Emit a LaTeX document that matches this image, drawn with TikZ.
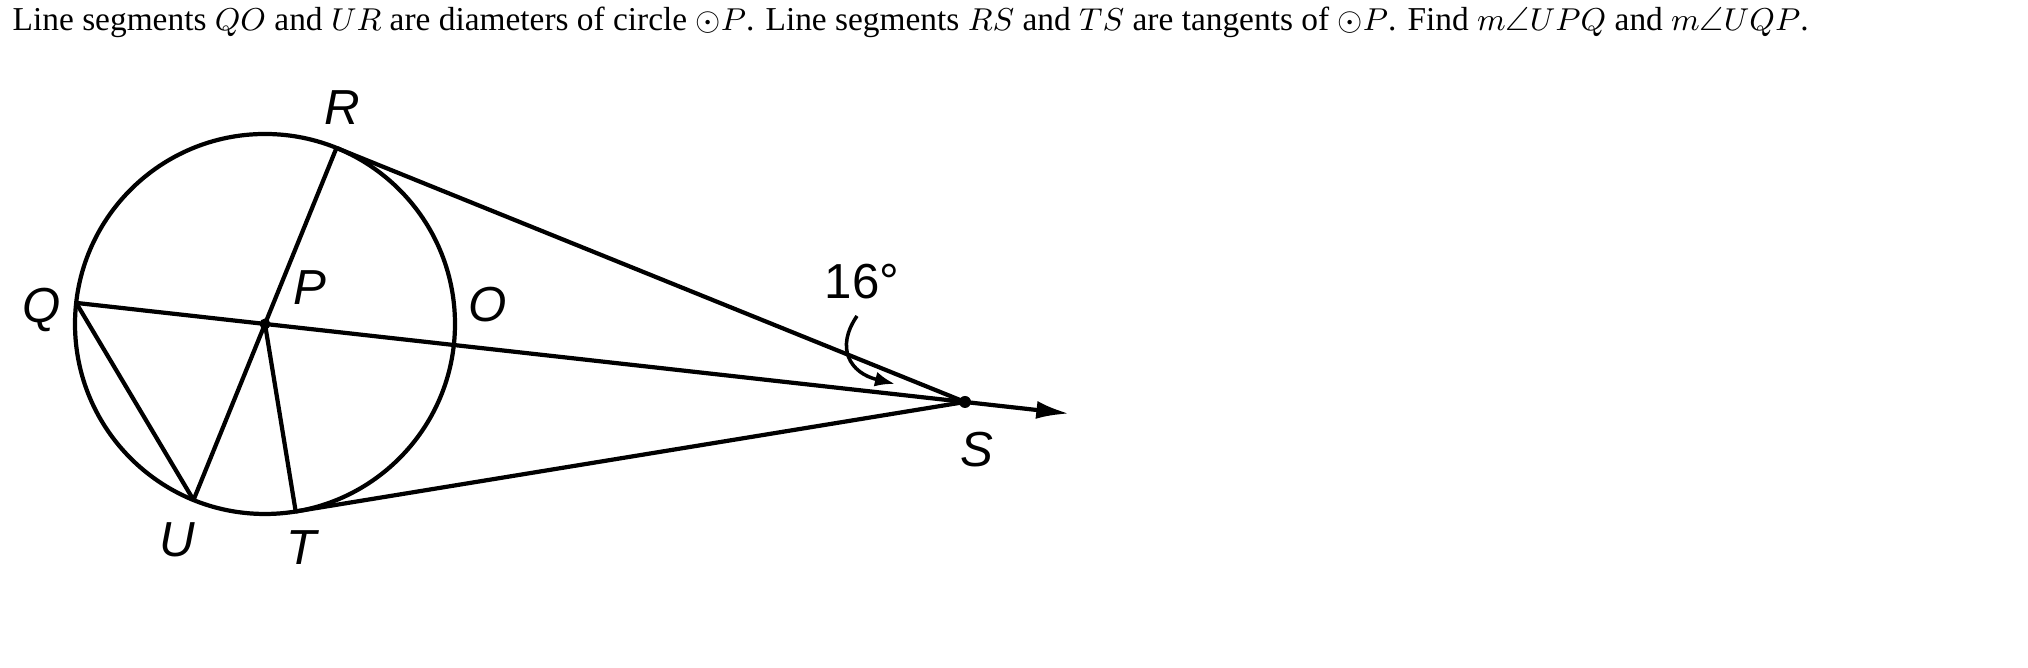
\documentclass[tikz,border=0pt]{standalone}
\usepackage{fontspec}
\usepackage{amssymb}
\setmainfont{Liberation Serif}
\newfontfamily\lblfont{Liberation Sans}
\usetikzlibrary{calc,arrows.meta}

\tikzset{
  geo/.style={line width=1.2pt},
  lbl/.style={font=\lblfont\itshape\fontsize{14}{14}\selectfont, inner sep=0pt},
  ray/.style={geo, -{Latex[length=3.3mm, width=1.8mm]}}
}

\begin{document}
\begin{tikzpicture}
      \useasboundingbox (0,0) rectangle (20.28,6.68);
      \node [anchor=base west, inner sep=0pt] (title) at (0.12,6.37)
        {\fontsize{9.5}{12}\selectfont Line segments $QO$ and $UR$ are diameters of circle $\odot P$. Line segments $RS$ and $TS$ are tangents of $\odot P$. Find $m\angle UPQ$ and $m\angle UQP$.};
      \coordinate (P) at (2.65,3.44);
      \coordinate (S) at (9.65,2.66);
      \path (P) ++(67.9:1.9) coordinate (R);
      \path (P) ++(247.9:1.9) coordinate (U);
      \path (P) ++(-80.7:1.9) coordinate (T);
      \path (P) ++(173.63:1.9) coordinate (Q);
      \path (P) ++(-6.37:1.9) coordinate (O);
      \path (S) ++(-6.37:1.05) coordinate (end);
      \draw [geo] (P) circle (1.9);
      \draw [geo] (Q) -- (S);
      \draw [ray] (S) -- (end);
      \draw [geo] (R) -- (U);
      \draw [geo] (P) -- (T);
      \draw [geo] (Q) -- (U);
      \draw [geo] (R) -- (S);
      \draw [geo] (T) -- (S);
      \fill (P) circle (0.055);
      \fill (S) circle (0.06);
      \draw [line width=1pt, -{Latex[length=2mm, width=1.5mm]}] (8.57,3.52) .. controls (8.35,3.20) and (8.50,2.95) .. (8.95,2.84);
      \node [lbl] (lR) at (3.42,5.60) {R};
      \node [lbl] (lP) at (3.10,3.80) {P};
      \node [lbl] (lQ) at (0.42,3.58) {Q};
      \node [lbl] (lO) at (4.88,3.63) {O};
      \node [lbl] (lU) at (1.77,1.28) {U};
      \node [lbl] (lT) at (3.02,1.20) {T};
      \node [lbl] (lS) at (9.77,2.18) {S};
      \node [lbl, font=\lblfont\fontsize{14}{14}\selectfont] (ang) at (8.62,3.86) {16°};
\end{tikzpicture}
\end{document}
